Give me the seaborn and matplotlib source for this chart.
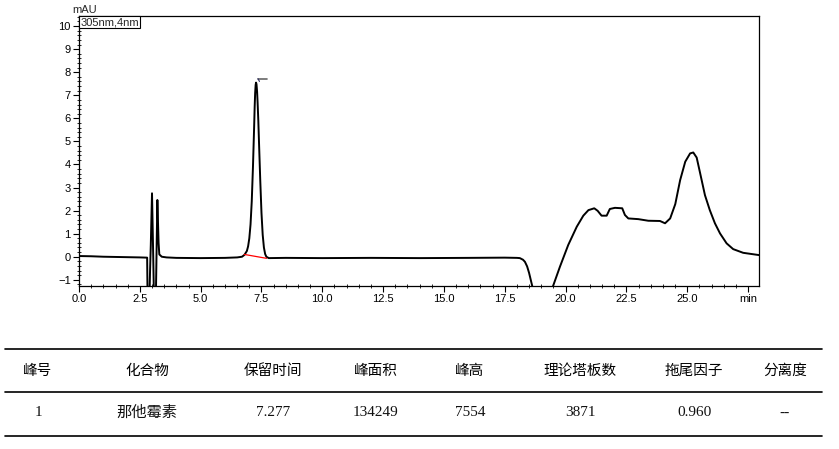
"""Chromatogram (305nm) with peak table below."""

import matplotlib.pyplot as plt
import pandas as pd
import seaborn as sns
from matplotlib.lines import Line2D
from matplotlib.ticker import MultipleLocator

# chromatogram trace (min, mAU)
time_min = [
    0.0, 0.5, 1.0, 1.5, 2.0, 2.5, 2.80, 2.83, 2.90, 2.92, 2.95, 3.00, 3.05,
    3.10, 3.14, 3.22, 3.27, 3.30, 3.40, 3.60, 4.0, 5.0, 6.0, 6.5,
    6.7, 6.8, 6.9, 6.95, 7.0, 7.05, 7.1, 7.15, 7.2, 7.22, 7.24, 7.26, 7.277,
    7.295, 7.32, 7.34, 7.37, 7.4, 7.45, 7.5, 7.55, 7.6, 7.65, 7.7, 7.8,
    8.5, 10.0, 12.0, 14.0, 16.0, 17.5, 18.0, 18.12, 18.25, 18.33, 18.42, 18.5,
    18.63, 18.8, 19.0, 19.2, 19.49, 19.77, 20.11, 20.46, 20.73, 20.94, 21.18,
    21.32, 21.48, 21.69, 21.82, 22.03, 22.33, 22.44, 22.58, 22.99, 23.40,
    23.88, 24.09, 24.30, 24.51, 24.71, 24.92, 25.12, 25.25, 25.39, 25.52,
    25.73, 25.93, 26.14, 26.35, 26.62, 26.89, 27.30, 27.96,
]
signal_mau = [
    0.03, 0.02, 0.0, -0.01, -0.02, -0.03, -0.04, -3.0, -1.5, -0.6, 0.5, 2.75, 0.0,
    -3.0, -3.0, 2.46, 0.6, 0.1, 0.0, -0.03, -0.05, -0.06, -0.05, -0.03,
    0.0, 0.08, 0.25, 0.45, 0.8, 1.4, 2.4, 3.9, 5.7, 6.5, 7.1, 7.45, 7.55,
    7.48, 7.15, 6.7, 5.9, 4.9, 3.3, 1.9, 0.95, 0.4, 0.12, 0.0, -0.06,
    -0.05, -0.06, -0.05, -0.06, -0.05, -0.04, -0.05, -0.06, -0.13, -0.22, -0.42, -0.7,
    -1.27, -2.0, -2.4, -2.0, -1.26, -0.43, 0.51, 1.30, 1.78, 2.02, 2.10,
    1.99, 1.78, 1.78, 2.07, 2.12, 2.10, 1.81, 1.66, 1.63, 1.56,
    1.55, 1.45, 1.66, 2.28, 3.32, 4.12, 4.48, 4.52, 4.30, 3.68,
    2.67, 2.02, 1.45, 1.01, 0.58, 0.33, 0.17, 0.07,
]

# integration baseline under the main peak
baseline_t = [6.79, 7.71]
baseline_y = [0.10, -0.07]
apex_t, apex_y = 7.277, 7.55

# peak table
headers = ["峰号", "化合物", "保留时间", "峰面积", "峰高", "理论塔板数", "拖尾因子", "分离度"]
row_values = ["1", "那他霉素", "7.277", "134249", "7554", "3871", "0.960", "--"]
col_x_px = [38, 147, 273, 376, 470, 580, 694, 785]

sns.set_theme(style="ticks")
plt.rcParams["font.family"] = ["Liberation Sans", "Noto Sans CJK SC", "DejaVu Sans"]

fig = plt.figure(figsize=(8.39, 4.49), dpi=100)
ax = fig.add_axes([0.0942, 0.363, 0.8101, 0.602])

trace = pd.DataFrame({"t": time_min, "mAU": signal_mau})
sns.lineplot(data=trace, x="t", y="mAU", ax=ax, color="black", linewidth=1.4,
             sort=False, estimator=None)
ax.plot(baseline_t, baseline_y, color="red", linewidth=0.9)
# apex marker
ax.plot([apex_t + 0.08, apex_t + 0.46], [apex_y + 0.17, apex_y + 0.17], color="#666666", linewidth=1.2)
ax.plot([apex_t + 0.08, apex_t + 0.14], [apex_y + 0.17, apex_y + 0.05], color="#333366", linewidth=0.8)

ax.set_xlim(0, 27.94)
ax.set_ylim(-1.27, 10.45)
xt = [0, 2.5, 5, 7.5, 10, 12.5, 15, 17.5, 20, 22.5, 25, 27.5]
ax.set_xticks(xt)
ax.set_xticklabels([f"{v:.1f}" for v in xt[:-1]] + ["min"])
ax.set_yticks(range(-1, 11))
ax.xaxis.set_minor_locator(MultipleLocator(0.5))
ax.yaxis.set_minor_locator(MultipleLocator(0.2))
ax.tick_params(which="major", direction="out", length=4, width=0.8, labelsize=8, pad=2, colors="black")
ax.tick_params(which="minor", direction="inout", length=3, width=0.7)
ax.set_xlabel("")
ax.set_ylabel("")
for sp in ax.spines.values():
    sp.set_visible(True)
    sp.set_color("black")
    sp.set_linewidth(0.9)
ax.grid(False)

ax.text(0.002, 0.995, "305nm,4nm", transform=ax.transAxes, ha="left", va="top", fontsize=8,
        bbox=dict(boxstyle="square,pad=0.1", facecolor="white", edgecolor="black", linewidth=0.8))
fig.text(72 / 839, 1 - 10 / 449, "mAU", ha="left", va="center", fontsize=8)

# table
for y_px in [349, 392, 435.5]:
    fig.add_artist(Line2D([5 / 839, 822 / 839], [1 - y_px / 449] * 2,
                          transform=fig.transFigure, color="black", linewidth=1.2))
for x_px, h, v in zip(col_x_px, headers, row_values):
    fig.text(x_px / 839, 1 - 371 / 449, h, ha="center", va="center", fontsize=10.5,
             family=["Noto Sans CJK SC", "DejaVu Sans"], fontweight="medium", color="black")
    fig.text(x_px / 839, 1 - 413 / 449, v, ha="center", va="center", fontsize=11,
             family=["Liberation Serif", "Noto Sans CJK SC"], color="#111111")

fig.savefig("out.png", dpi=100)
plt.close(fig)
